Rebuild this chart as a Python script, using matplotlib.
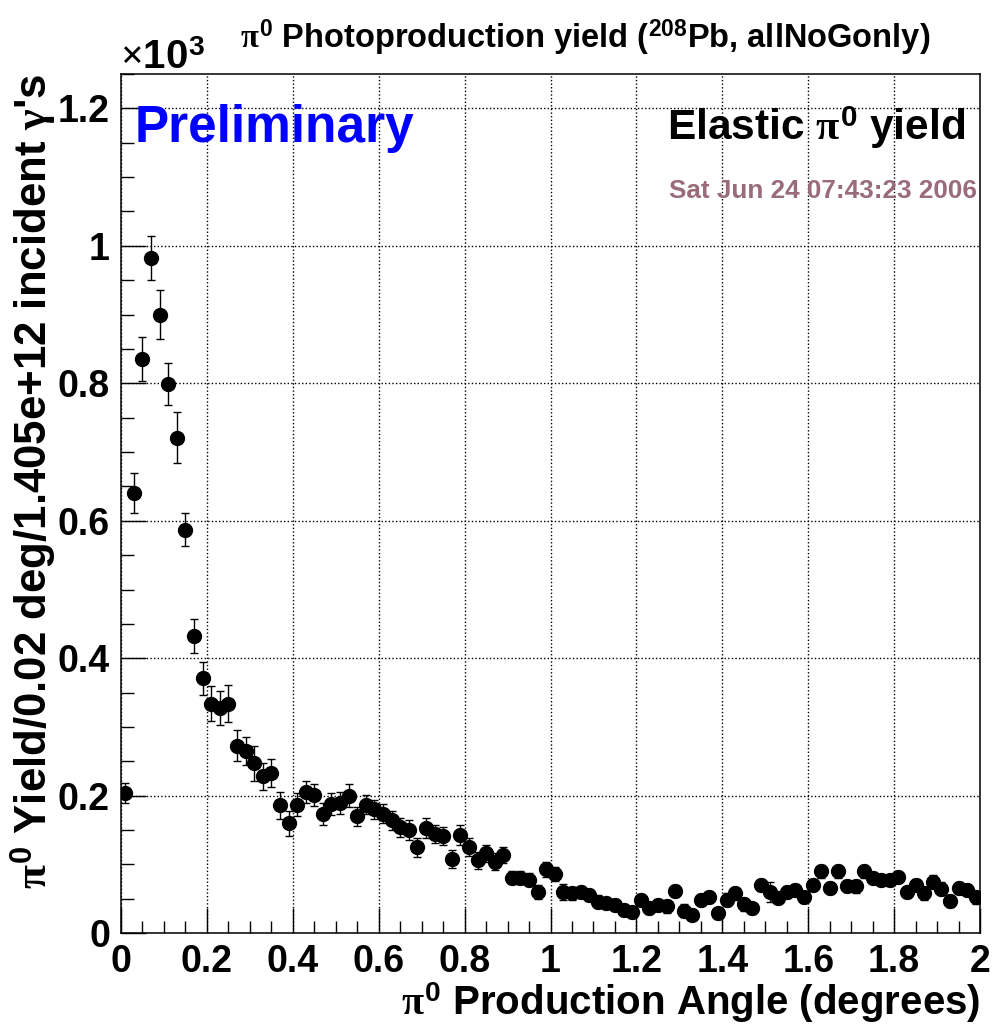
import numpy as np
import matplotlib
matplotlib.use("Agg")
import matplotlib.pyplot as plt
from matplotlib.ticker import MultipleLocator, FuncFormatter

plt.rcParams['font.family'] = ['Liberation Sans', 'DejaVu Sans']
plt.rcParams['font.weight'] = 'bold'
plt.rcParams['mathtext.fontset'] = 'custom'
plt.rcParams['mathtext.rm'] = 'Liberation Serif'
plt.rcParams['mathtext.it'] = 'Liberation Serif'
plt.rcParams['mathtext.bf'] = 'Liberation Sans:bold'

# bin centres (0.02 deg bins)
angle = np.round(np.arange(0.01, 2.0, 0.02), 2)

# yield per bin
yield_vals = [204, 640, 835, 982, 900, 799, 721, 587, 432, 371,
              334, 328, 334, 273, 265, 247, 228, 233, 186, 160,
              187, 205, 201, 173, 188, 190, 200, 170, 187, 180,
              174, 164, 154, 150, 125, 153, 144, 142, 108, 143,
              126, 106, 116, 104, 114, 81, 81, 78, 60, 93,
              86, 60, 58, 60, 56, 46, 44, 41, 34, 31,
              48, 37, 41, 39, 61, 33, 27, 48, 53, 29,
              49, 58, 42, 36, 70, 60, 51, 60, 63, 53,
              70, 90, 66, 90, 69, 68, 90, 80, 77, 77,
              82, 60, 70, 58, 75, 65, 47, 66, 63, 52]

yield_err = [15, 29, 32, 32, 36, 31, 37, 24, 25, 24,
             25, 25, 27, 22, 20, 26, 20, 20, 20, 18,
             17, 16, 16, 16, 16, 16, 17, 14, 14, 14,
             14, 14, 14, 14, 14, 14, 13, 13, 13, 14,
             13, 12, 12, 12, 12, 10, 10, 10, 10, 11,
             10, 12, 9, 9, 9, 9, 9, 9, 9, 9,
             9, 9, 9, 9, 9, 9, 8, 9, 9, 8,
             9, 9, 9, 8, 9, 14, 9, 9, 9, 9,
             9, 9, 9, 9, 9, 9, 9, 9, 9, 9,
             9, 9, 9, 9, 9, 9, 9, 9, 9, 9]

y = np.array(yield_vals) / 1000.0
ey = np.array(yield_err) / 1000.0

fig = plt.figure(figsize=(9.95, 10.29), dpi=100)
ax = fig.add_axes([0.1216, 0.0931, 0.8634, 0.8350])

ax.errorbar(angle, y, yerr=ey, fmt='o', color='black', ms=10,
            elinewidth=1.0, capsize=2.9, capthick=1.0, zorder=3)

ax.set_xlim(0, 2)
ax.set_ylim(0, 1.25)
ax.xaxis.set_major_locator(MultipleLocator(0.2))
ax.xaxis.set_minor_locator(MultipleLocator(0.05))
ax.yaxis.set_major_locator(MultipleLocator(0.2))
ax.yaxis.set_minor_locator(MultipleLocator(0.05))
fmt = FuncFormatter(lambda v, p: '%g' % round(v, 2))
ax.xaxis.set_major_formatter(fmt)
ax.yaxis.set_major_formatter(fmt)

ax.grid(True, which='major', color='black', linestyle=(0, (1, 1.6)), linewidth=1.0)
ax.tick_params(which='both', direction='in', top=False, right=False,
               labelsize=27, width=1.0)
ax.tick_params(which='major', length=18, pad=8)
ax.tick_params(which='minor', length=9)
for lab in ax.get_xticklabels() + ax.get_yticklabels():
    lab.set_fontweight('bold')
for sp in ax.spines.values():
    sp.set_linewidth(1.1)

ax.set_xlabel(r'$\pi^{\mathbf{0}}$ Production Angle (degrees)', fontsize=29,
              fontweight='bold', loc='right', labelpad=0)
ax.set_ylabel(r"$\pi^{\mathbf{0}}$ Yield/0.02 deg/1.405e+12 incident $\gamma$'s",
              fontsize=31.5, fontweight='bold', loc='top', labelpad=0)

fig.text(0.588, 1 - 38 / 1029, r'$\pi^{\mathbf{0}}$ Photoproduction yield ($^{\mathbf{208}}$Pb, allNoGonly)',
         fontsize=23.5, fontweight='bold', ha='center', va='center')
fig.text(120 / 995, 1 - 69 / 1029, r'$\times$10$^{\mathbf{3}}$', fontsize=29,
         fontweight='bold', ha='left', va='baseline')

ax.text(0.016, 0.937, 'Preliminary', transform=ax.transAxes, color='#0000ff',
        fontsize=37, fontweight='bold', ha='left', va='center')
ax.text(0.983, 0.937, r'Elastic $\pi^{\mathbf{0}}$ yield', transform=ax.transAxes,
        color='black', fontsize=30.5, fontweight='bold', ha='right', va='center')
ax.text(0.997, 0.864, 'Sat Jun 24 07:43:23 2006', transform=ax.transAxes,
        color='#9a6b78', fontsize=18.8, fontweight='bold', ha='right', va='center')

fig.savefig('out.png', dpi=100)
